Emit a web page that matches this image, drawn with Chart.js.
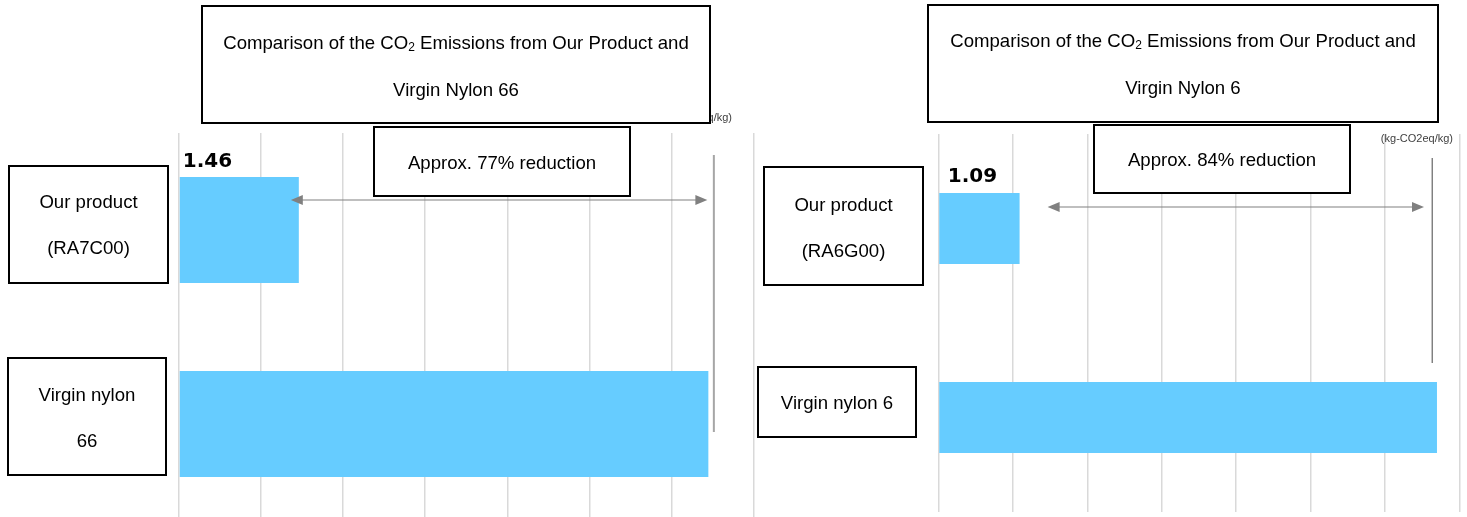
<!DOCTYPE html>
<html>
<head>
<meta charset="utf-8">
<script src="https://cdn.jsdelivr.net/npm/chart.js@4.4.1/dist/chart.umd.min.js"></script>
<style>
html, body { margin: 0; padding: 0; background: #fff; overflow: hidden; width: 1467px; height: 517px; }
#leftChart { position: absolute; left: 0; top: 0; }
#rightChart { position: absolute; left: 740px; top: 0; }
</style>
</head>
<body>
<canvas id="leftChart" width="760" height="521"></canvas>
<canvas id="rightChart" width="727" height="521"></canvas>
<script>
// data
const leftCategories = [['Our product', '(RA7C00)'], ['Virgin nylon', '66']];
const leftValues = [1.46, 6.45];
const rightCategories = [['Our product', '(RA6G00)'], ['Virgin nylon 6']];
const rightValues = [1.09, 6.70];
const axisTicks = [0, 1, 2, 3, 4, 5, 6, 7];
const leftTitle = ['Comparison of the CO₂ Emissions from Our Product and', 'Virgin Nylon 66'];
const rightTitle = ['Comparison of the CO₂ Emissions from Our Product and', 'Virgin Nylon 6'];
const leftReduction = 'Approx. 77% reduction';
const rightReduction = 'Approx. 84% reduction';
const unitLabel = '(kg-CO2eq/kg)';

const BOX_FONT = '"Liberation Sans", Arial, sans-serif';
const TEXT_SHIFT = 2; // middle baseline sits a bit high otherwise

function drawBox(ctx, x1, y1, x2, y2) {
    ctx.fillStyle = '#fff';
    ctx.fillRect(x1, y1, x2 - x1, y2 - y1);
    ctx.strokeStyle = '#000';
    ctx.lineWidth = 2;
    ctx.strokeRect(x1, y1, x2 - x1, y2 - y1);
}

// draws text with "₂" as a small lowered 2
function drawSubText(ctx, text, cx, cy, size) {
    const parts = text.split('₂');
    const big = size + 'px ' + BOX_FONT;
    const small = Math.round(size * 0.65) + 'px ' + BOX_FONT;
    let total = 0;
    parts.forEach(function (p, i) {
        ctx.font = big;
        total += ctx.measureText(p).width;
        if (i < parts.length - 1) { ctx.font = small; total += ctx.measureText('2').width; }
    });
    let x = cx - total / 2;
    ctx.textAlign = 'left';
    ctx.textBaseline = 'middle';
    ctx.fillStyle = '#000';
    parts.forEach(function (p, i) {
        ctx.font = big;
        ctx.fillText(p, x, cy);
        x += ctx.measureText(p).width;
        if (i < parts.length - 1) {
            ctx.font = small;
            ctx.fillText('2', x, cy + size * 0.22);
            x += ctx.measureText('2').width;
        }
    });
}

function arrowHead(ctx, x, y, dir) {
    ctx.beginPath();
    ctx.moveTo(x, y);
    ctx.lineTo(x - dir * 12, y - 5);
    ctx.lineTo(x - dir * 12, y + 5);
    ctx.closePath();
    ctx.fill();
}

const overlayPlugin = {
    id: 'overlay',
    afterDraw: function (chart, args, o) {
        const ctx = chart.ctx;
        const xs = chart.scales.x;
        const dx = -o.offset;
        const vals = chart.data.datasets[0].data;
        const bars = chart.getDatasetMeta(0).data;
        ctx.save();

        // unit label (partly hidden by title box on the left chart)
        ctx.font = '11px ' + BOX_FONT;
        ctx.fillStyle = '#404040';
        ctx.textAlign = 'right';
        ctx.textBaseline = 'middle';
        ctx.fillText(unitLabel, o.unit[0] + dx, o.unit[1] + 1);

        // title
        const t = o.titleBox;
        drawBox(ctx, t[0] + dx, t[1], t[2] + dx, t[3]);
        o.title.forEach(function (line, i) {
            drawSubText(ctx, line, (t[0] + t[2]) / 2 + dx, o.titleY[i] + TEXT_SHIFT, 18.6);
        });

        // vertical marker line next to the long bar
        const vx = xs.getPixelForValue(vals[1]) + o.vline.dx;
        ctx.strokeStyle = o.vline.color;
        ctx.lineWidth = o.vline.width;
        ctx.beginPath();
        ctx.moveTo(vx, o.vline.y1);
        ctx.lineTo(vx, o.vline.y2);
        ctx.stroke();

        // double arrow
        const a1 = xs.getPixelForValue(vals[0]) + o.arrow.dx1;
        const a2 = xs.getPixelForValue(vals[1]) + o.arrow.dx2;
        ctx.strokeStyle = '#808080';
        ctx.fillStyle = '#808080';
        ctx.lineWidth = 1.2;
        ctx.beginPath();
        ctx.moveTo(a1 + 6, o.arrow.y);
        ctx.lineTo(a2 - 6, o.arrow.y);
        ctx.stroke();
        arrowHead(ctx, a1, o.arrow.y, -1);
        arrowHead(ctx, a2, o.arrow.y, 1);

        // reduction box
        const r = o.reductionBox;
        drawBox(ctx, r[0] + dx, r[1], r[2] + dx, r[3]);
        ctx.font = '18.6px ' + BOX_FONT;
        ctx.fillStyle = '#000';
        ctx.textAlign = 'center';
        ctx.textBaseline = 'middle';
        ctx.fillText(o.reduction, (r[0] + r[2]) / 2 + dx, o.reductionY + TEXT_SHIFT);

        // value label of our product
        ctx.font = 'bold 20px "DejaVu Sans", Verdana, sans-serif';
        ctx.textAlign = 'left';
        ctx.fillText(vals[0].toFixed(2), bars[0].base + o.value.dx, bars[0].y - bars[0].height / 2 + o.value.dy);

        // category boxes
        o.catBoxes.forEach(function (b, i) {
            drawBox(ctx, b[0] + dx, b[1], b[2] + dx, b[3]);
            const lines = o.categories[i];
            const cy = (b[1] + b[3]) / 2 + o.catShift[i] + TEXT_SHIFT;
            ctx.font = '18.6px ' + BOX_FONT;
            ctx.fillStyle = '#000';
            ctx.textAlign = 'center';
            ctx.textBaseline = 'middle';
            lines.forEach(function (line, j) {
                ctx.fillText(line, (b[0] + b[2]) / 2 + dx, cy + (j - (lines.length - 1) / 2) * 46);
            });
        });
        ctx.restore();
    }
};

function makeChart(id, values, categories, barPct, padding, overlay) {
    return new Chart(document.getElementById(id).getContext('2d'), {
        type: 'bar',
        data: {
            labels: categories.map(function (c) { return c.join(' '); }),
            datasets: [{
                data: values,
                backgroundColor: '#66CCFF',
                borderWidth: 0,
                barPercentage: barPct,
                categoryPercentage: 1
            }]
        },
        plugins: [overlayPlugin],
        options: {
            responsive: false,
            animation: false,
            indexAxis: 'y',
            layout: { padding: padding },
            plugins: {
                legend: { display: false },
                tooltip: { enabled: false },
                overlay: Object.assign({ categories: categories }, overlay)
            },
            scales: {
                x: {
                    min: axisTicks[0],
                    max: axisTicks[axisTicks.length - 1],
                    afterBuildTicks: function (axis) {
                        axis.ticks = axisTicks.map(function (v) { return { value: v }; });
                    },
                    ticks: { display: false },
                    grid: { color: '#d9d9d9', lineWidth: 1.5, drawTicks: false },
                    border: { display: false }
                },
                y: { display: false }
            }
        }
    });
}

makeChart('leftChart', leftValues, leftCategories, 0.546,
    { left: 179, right: 6.5, top: 133, bottom: 0 },
    {
        offset: 0,
        unit: [732, 117],
        title: leftTitle,
        titleBox: [202, 6, 710, 123],
        titleY: [42, 89],
        reduction: leftReduction,
        reductionBox: [374, 127, 630, 196],
        reductionY: 162,
        arrow: { y: 200, dx1: -8, dx2: -1 },
        vline: { dx: 5.5, y1: 155, y2: 432, color: '#a6a6a6', width: 2 },
        value: { dx: 3, dy: -15 },
        catBoxes: [[9, 166, 168, 283], [8, 358, 166, 475]],
        catShift: [-1, 0.5]
    });

makeChart('rightChart', rightValues, rightCategories, 0.376,
    { left: 198.5, right: 7.7, top: 134, bottom: 9 },
    {
        offset: 740,
        unit: [1453, 138],
        title: rightTitle,
        titleBox: [928, 5, 1438, 122],
        titleY: [40, 87],
        reduction: rightReduction,
        reductionBox: [1094, 125, 1350, 193],
        reductionY: 159,
        arrow: { y: 207, dx1: 28, dx2: -13 },
        vline: { dx: -4.7, y1: 158, y2: 363, color: '#808080', width: 1.5 },
        value: { dx: 8.5, dy: -16 },
        catBoxes: [[764, 167, 923, 285], [758, 367, 916, 437]],
        catShift: [0.5, 0]
    });
</script>
</body>
</html>
